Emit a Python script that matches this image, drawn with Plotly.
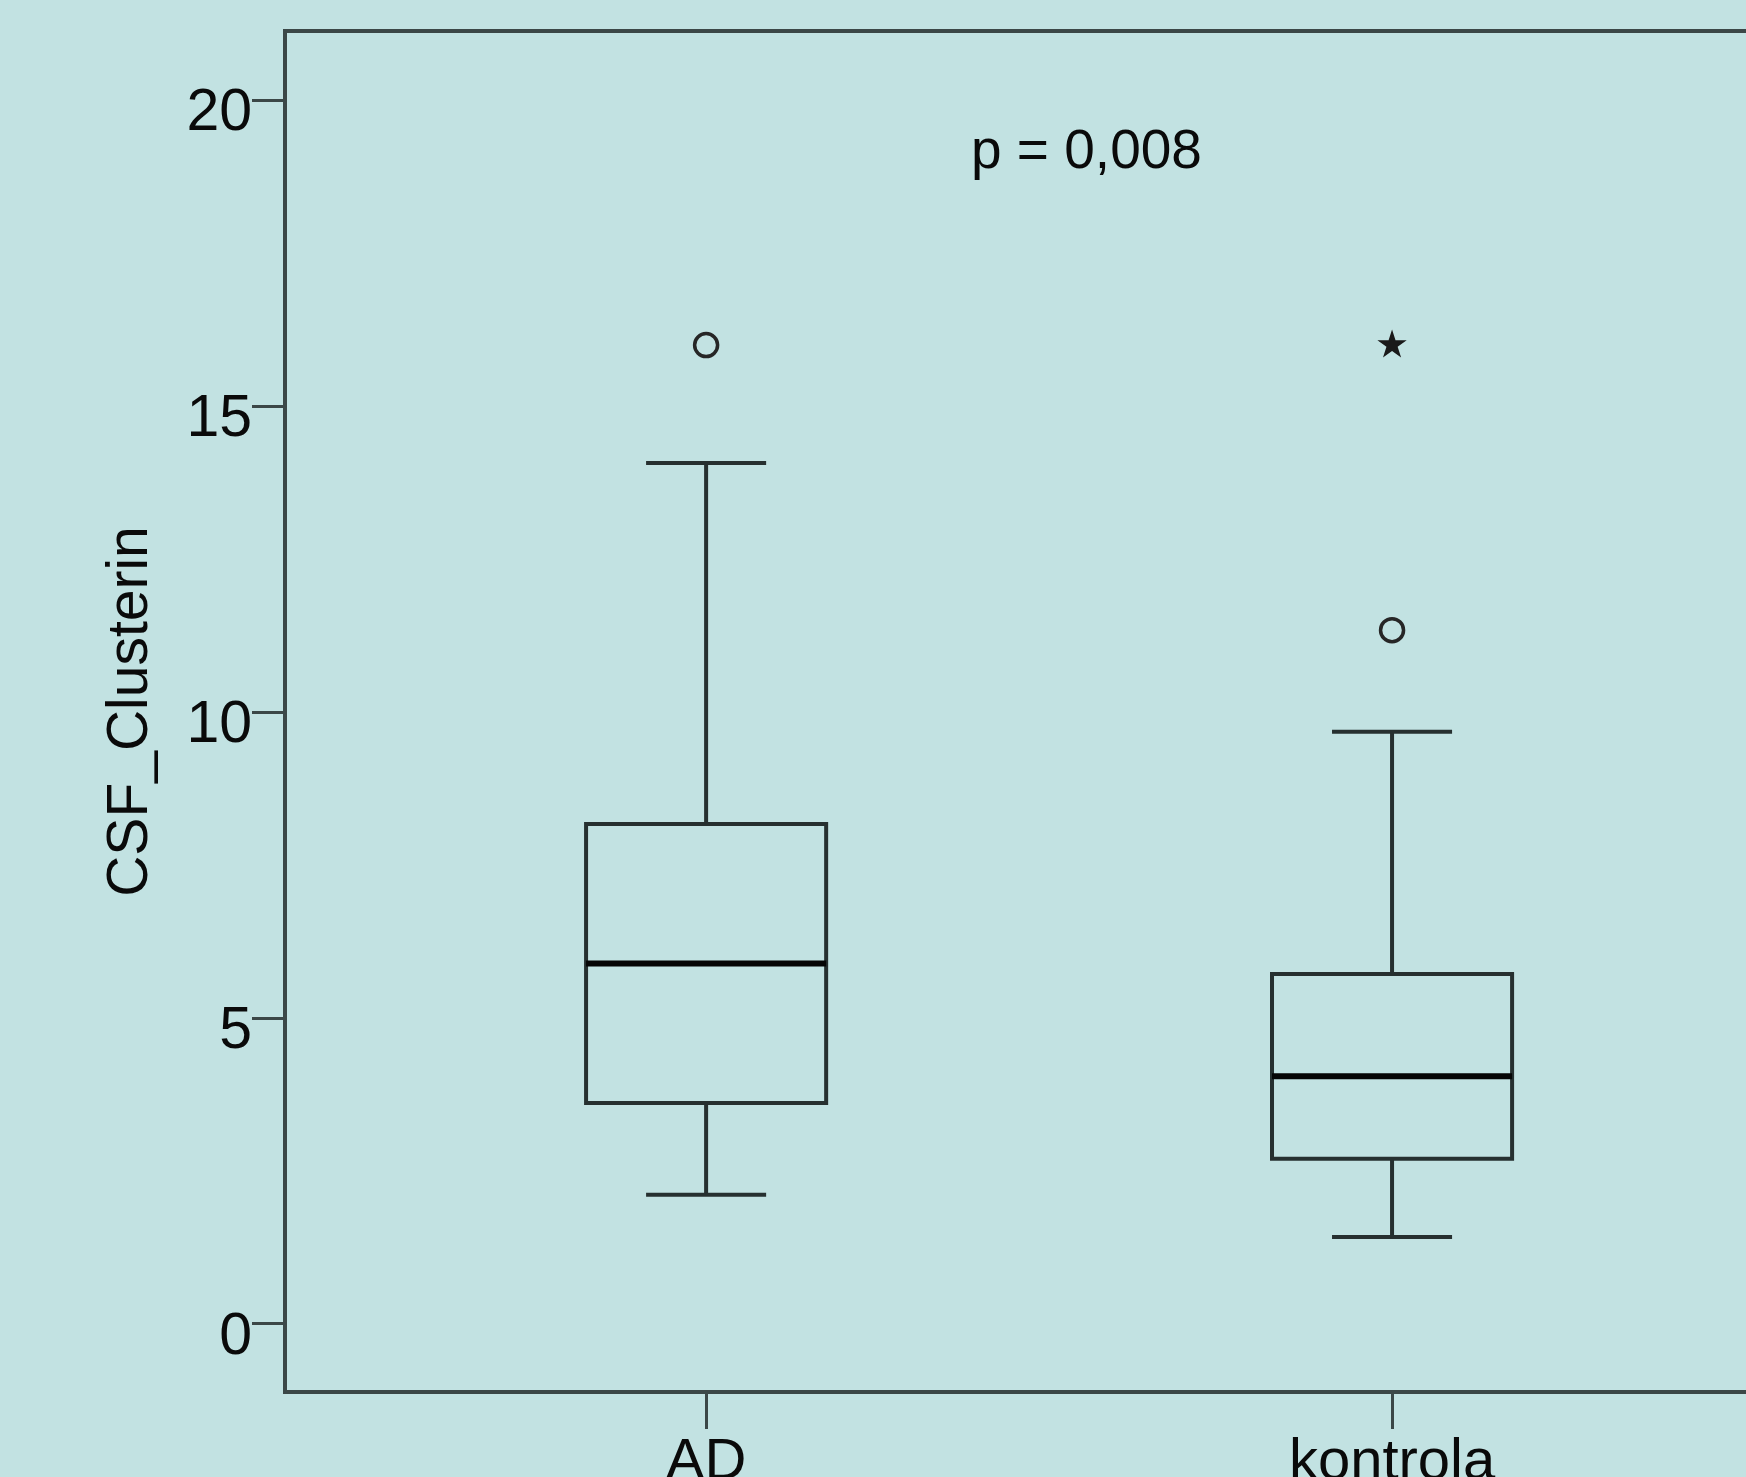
import plotly.graph_objects as go

categories = ["AD", "kontrola"]
q1 = [3.61, 2.70]
median = [5.89, 4.05]
q3 = [8.17, 5.72]
lower_whisker = [2.11, 1.42]
upper_whisker = [14.07, 9.68]
circle_outlier_x = ["AD", "kontrola"]
circle_outlier_y = [16.0, 11.34]
star_outlier_x = ["kontrola"]
star_outlier_y = [16.0]
p_text = "p = 0,008"
y_title = "CSF_Clusterin"
y_ticks = [0, 5, 10, 15, 20]

BG = "#C2E2E2"
INK = "#0a0a0a"
BOXLINE = "#263030"
FRAME = "#3b4747"
FONT = "Liberation Sans, Arial, sans-serif"

fig = go.Figure()

fig.add_trace(go.Box(
    x=categories, q1=q1, median=median, q3=q3,
    lowerfence=lower_whisker, upperfence=upper_whisker,
    width=0.35, whiskerwidth=0.5,
    fillcolor="rgba(0,0,0,0)",
    line=dict(color=BOXLINE, width=4),
    boxpoints=False, showlegend=False, hoverinfo="skip",
))
# thicker median line drawn as a zero-height box at the median
fig.add_trace(go.Box(
    x=categories, q1=median, median=median, q3=median,
    lowerfence=median, upperfence=median,
    width=0.35, whiskerwidth=0,
    fillcolor="rgba(0,0,0,0)",
    line=dict(color="#050505", width=6),
    boxpoints=False, showlegend=False, hoverinfo="skip",
))
fig.add_trace(go.Scatter(
    x=circle_outlier_x, y=circle_outlier_y, mode="markers",
    marker=dict(symbol="circle-open", size=23, color="#262626",
                line=dict(width=3.5, color="#262626")),
    showlegend=False, hoverinfo="skip",
))
fig.add_trace(go.Scatter(
    x=star_outlier_x, y=star_outlier_y, mode="markers",
    marker=dict(symbol="star", size=22, color="#1a1a1a",
                line=dict(width=0)),
    showlegend=False, hoverinfo="skip",
))

fig.add_annotation(
    x=0.555, y=19.2, xref="x", yref="y", text=p_text, showarrow=False,
    font=dict(family=FONT, size=55, color=INK),
    xanchor="center", yanchor="middle",
)

fig.update_layout(
    width=1746, height=1477,
    margin=dict(l=287, r=0, t=33, b=87),
    paper_bgcolor=BG, plot_bgcolor=BG,
    font=dict(family=FONT, size=58, color=INK),
    showlegend=False,
)
fig.update_xaxes(
    type="category", categoryorder="array", categoryarray=categories,
    range=[-0.611, 1.516], automargin=False,
    showline=True, linecolor=FRAME, linewidth=4, mirror=True,
    ticks="outside", ticklen=35, tickwidth=3, tickcolor=FRAME,
    ticklabelstandoff=-20,
    showgrid=False, zeroline=False,
    tickfont=dict(family=FONT, size=58, color=INK),
)
fig.update_yaxes(
    range=[-1.08, 21.1], automargin=False,
    tickvals=y_ticks,
    showline=True, linecolor=FRAME, linewidth=4, mirror=False,
    ticks="outside", ticklen=31, tickwidth=3, tickcolor=FRAME,
    ticklabelstandoff=-12, ticklabelshift=9,
    showgrid=False, zeroline=False,
    tickfont=dict(family=FONT, size=59, color=INK),
    title=dict(text=y_title, standoff=22,
               font=dict(family=FONT, size=57, color=INK)),
)

fig.write_html(
    "out.html",
    config={"displayModeBar": False},
    post_script="document.body.style.margin='0';document.body.style.overflow='hidden';",
)
